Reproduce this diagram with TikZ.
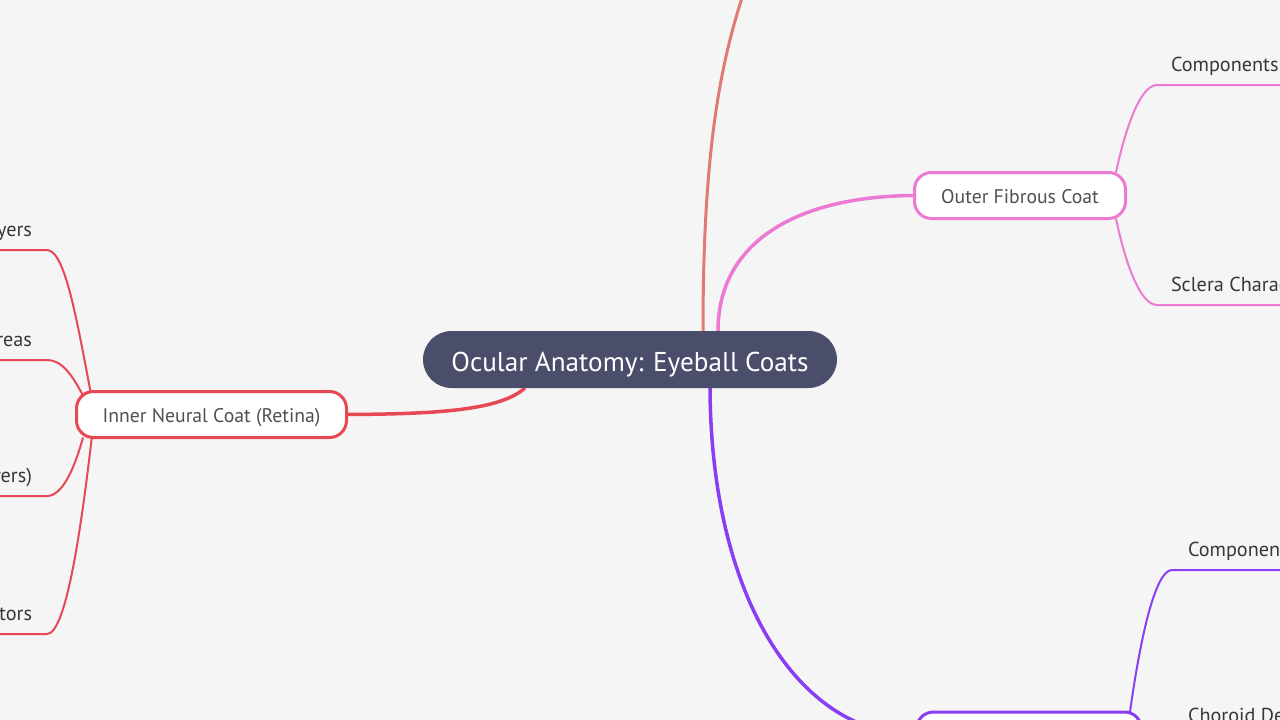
\documentclass[tikz,border=0pt]{standalone}
\usepackage{fontspec}
\setmainfont{PT Sans}
\usetikzlibrary{calc}
\definecolor{bgc}{RGB}{245,245,245}
\definecolor{rootc}{RGB}{75,78,106}
\definecolor{redc}{RGB}{230,72,84}
\definecolor{pinkc}{RGB}{236,122,210}
\definecolor{purc}{RGB}{139,61,243}
\definecolor{salc}{RGB}{224,122,116}
\definecolor{nodetext}{RGB}{80,80,80}
\definecolor{leaftext}{RGB}{55,55,55}
\pgfdeclarelayer{bg}
\pgfdeclarelayer{links}
\pgfsetlayers{bg,links,main}
\begin{document}
\begin{tikzpicture}[x=1pt,y=-1pt,
  every node/.style={inner sep=0pt, outer sep=0pt},
  root/.style={fill=rootc, rounded corners=28.5pt, minimum width=414pt, minimum height=57pt,
    text height=24pt, text depth=1pt,
    text=white, font=\fontsize{27.2}{31}\selectfont},
  topic/.style={draw, fill=white, line width=3pt, rounded corners=17pt, minimum height=46pt,
    text height=17pt, text depth=0.6pt,
    text=nodetext, font=\fontsize{19.7}{23}\selectfont},
  leafE/.style={text=leaftext, font=\fontsize{20.2}{24}\selectfont, anchor=base east},
  leafW/.style={text=leaftext, font=\fontsize{20.2}{24}\selectfont, anchor=base west},
  mainlink/.style={line width=3.5pt},
  sublink/.style={line width=2pt},
]
\useasboundingbox (0,0) rectangle (1280,720);
\clip (0,0) rectangle (1280,720);
\begin{pgfonlayer}{bg}
\fill[bgc] (0,0) rectangle (1280,720);
\end{pgfonlayer}

% nodes
\node[root] (root) at (630,359.5) {Ocular Anatomy: Eyeball Coats};
\node[topic, draw=redc, minimum width=270pt] (inner) at (211.5,414.5) {Inner Neural Coat (Retina)};
\node[topic, draw=pinkc, minimum width=211pt] (outer) at (1020,195.5) {Outer Fibrous Coat};
\node[topic, draw=purc, minimum width=225pt] (uvea) at (1029,735) {};

% leaves
\node[leafE] (li1) at (32,236) {Layers};
\node[leafE] (li2) at (32,346) {Areas};
\node[leafE] (li3) at (32,482) {Layers)};
\node[leafE] (li4) at (32,620) {Receptors};
\node[leafW] (lo1) at (1171,71) {Components};
\node[leafW] (lo2) at (1171,291) {Sclera Characteristics};
\node[leafW] (lu1) at (1188,556) {Components};
\node[leafW] (lu2) at (1188,722) {Choroid Details};

\coordinate (topend) at (748,-20);
\coordinate (ci1) at (47,250);
\coordinate (ci2) at (47,360);
\coordinate (ci3) at (47,496);
\coordinate (ci4) at (47,634);
\coordinate (co1) at (1157,85);
\coordinate (co2) at (1157,305);
\coordinate (cu1) at (1172,570);

\begin{pgfonlayer}{links}
% main links
\draw[mainlink, redc] ([xshift=-105pt]root.south) .. controls (500,410) and (440,414) .. (inner.east);
\draw[mainlink, pinkc] ([xshift=88pt]root.north) .. controls (718,240) and (800,196) .. (outer.west);
\draw[mainlink, purc] ([xshift=80pt]root.south) .. controls (711,600) and (800,735) .. (uvea.west);
\draw[line width=3pt, salc] ([xshift=73pt]root.north) .. controls (703,150) and (720,60) .. (topend);

% retina children
\draw[sublink, redc] ([xshift=14pt]inner.north west) .. controls (77,321) and (65,250) .. (ci1) -- (li1.base west |- ci1) -- ++(-10,0);
\draw[sublink, redc] ([xshift=6pt,yshift=-3pt]inner.north west) .. controls (72,375) and (62,360) .. (ci2) -- (li2.base west |- ci2) -- ++(-10,0);
\draw[sublink, redc] ([xshift=6.5pt]inner.south west) .. controls (74,470) and (62,496) .. (ci3) -- (li3.base west |- ci3) -- ++(-10,0);
\draw[sublink, redc] ([xshift=15.5pt,yshift=2pt]inner.south west) .. controls (80,540) and (65,634) .. (ci4) -- (li4.base west |- ci4) -- ++(-10,0);

% outer children
\draw[sublink, pinkc] ([xshift=-9.5pt]outer.north east) .. controls (1125,130) and (1140,85) .. (co1) -- (1290,85);
\draw[sublink, pinkc] ([xshift=-9.5pt]outer.south east) .. controls (1125,262) and (1140,305) .. (co2) -- (1290,305);

% uvea children
\draw[sublink, purc] ([xshift=-11.5pt]uvea.north east) .. controls (1140,640) and (1155,570) .. (cu1) -- (1290,570);
\end{pgfonlayer}
\end{tikzpicture}
\end{document}
